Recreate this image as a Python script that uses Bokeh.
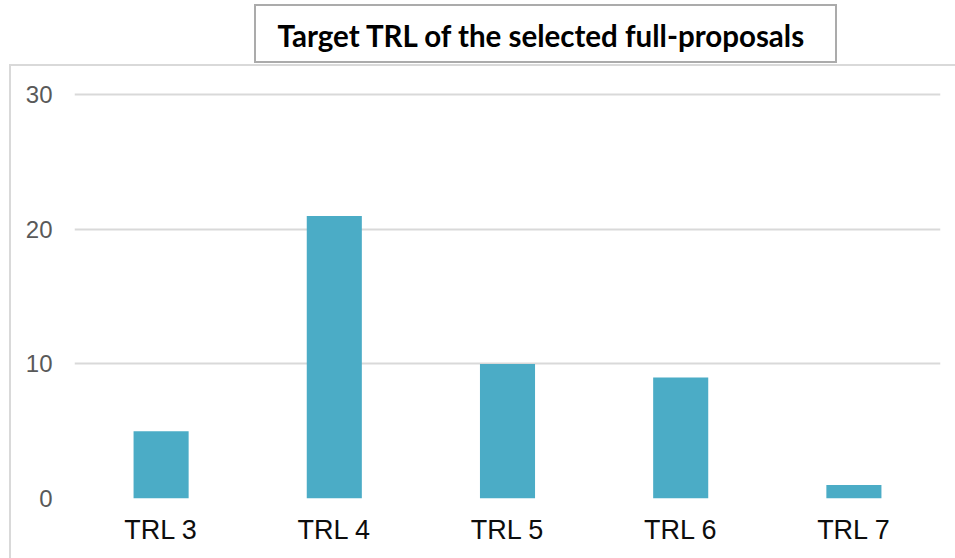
from bokeh.plotting import figure
from bokeh.models import FactorRange, Range1d, FixedTicker
from bokeh.embed import file_html
from bokeh.resources import INLINE

categories = ["TRL 3", "TRL 4", "TRL 5", "TRL 6", "TRL 7"]
counts = [5, 21, 10, 9, 1]
y_ticks = [0, 10, 20, 30]
title_text = "Target TRL of the selected full-proposals"

# decorative frames (chart-area border and title box) drawn as CSS background lines
box_c = "#ababab"
area_c = "#d9d9d9"
layers = [
    # title box
    f"linear-gradient({box_c},{box_c}) 254px 4px / 583px 2px no-repeat",
    f"linear-gradient({box_c},{box_c}) 254px 61px / 583px 2px no-repeat",
    f"linear-gradient({box_c},{box_c}) 254px 4px / 2px 59px no-repeat",
    f"linear-gradient({box_c},{box_c}) 835px 4px / 2px 59px no-repeat",
    # chart area border (top and left edges visible)
    f"linear-gradient({area_c},{area_c}) 9px 64px / 1000px 2px no-repeat",
    f"linear-gradient({area_c},{area_c}) 9px 64px / 2px 1000px no-repeat",
]

p = figure(width=955, height=558,
           x_range=FactorRange(*categories), y_range=Range1d(0, 32.18),
           output_backend="svg", toolbar_location=None,
           min_border_left=74, min_border_right=15, min_border_top=65, min_border_bottom=60,
           styles={"background": ", ".join(layers) + ", #ffffff"})
p.border_fill_color = None
p.background_fill_color = None

p.vbar(x=categories, top=counts, width=0.318, fill_color="#4BACC6", line_color=None)

# title
p.title.text = title_text
p.title.align = "left"
p.title.offset = 203
p.title.standoff = 25
p.title.vertical_align = "bottom"
p.title.text_font = "Lato"
p.title.text_font_size = "29.5px"
p.title.text_font_style = "bold"
p.title.text_color = "#000000"

p.yaxis.ticker = FixedTicker(ticks=y_ticks)
p.yaxis.axis_line_color = None
p.yaxis.major_tick_line_color = None
p.yaxis.minor_tick_line_color = None
p.yaxis.major_label_text_font = "Liberation Sans"
p.yaxis.major_label_text_font_size = "24px"
p.yaxis.major_label_text_color = "#595959"
p.yaxis.major_label_standoff = 16

p.xaxis.axis_line_color = None
p.xaxis.major_tick_line_color = None
p.xaxis.major_label_text_font = "Liberation Sans"
p.xaxis.major_label_text_font_size = "27px"
p.xaxis.major_label_text_color = "#0d0d0d"
p.xaxis.major_label_standoff = 10

p.xgrid.grid_line_color = None
p.ygrid.grid_line_color = "#d9d9d9"
p.ygrid.grid_line_width = 2
p.outline_line_color = None

open("out.html", "w").write(file_html(p, INLINE))
